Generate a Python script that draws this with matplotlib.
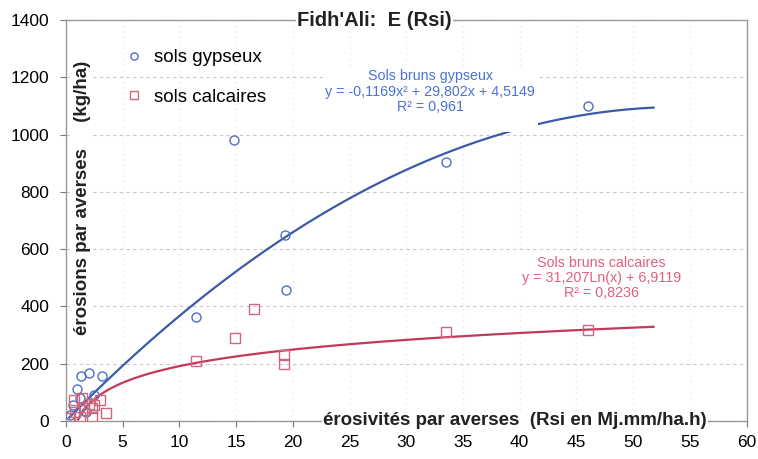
import numpy as np
import matplotlib
matplotlib.use("Agg")
import matplotlib.pyplot as plt

plt.rcParams['font.family'] = ['Liberation Sans', 'DejaVu Sans']

# ---- data ----
gyp_x = [0.4, 0.6, 1.0, 1.2, 1.3, 1.8, 2.0, 2.5, 3.2, 11.5, 14.8, 19.3, 19.4, 33.5, 46.0]
gyp_y = [20, 55, 110, 80, 158, 30, 168, 90, 157, 362, 980, 650, 456, 905, 1100]

cal_x = [0.3, 0.7, 0.8, 1.2, 1.4, 1.6, 2.0, 2.3, 2.3, 2.5, 3.0, 3.5,
         11.5, 14.9, 16.6, 19.2, 19.2, 33.5, 46.0]
cal_y = [10, 73, 31, 14, 80, 38, 60, 14, 45, 56, 73, 27,
         210, 290, 390, 230, 200, 310, 318]

# trend lines as drawn (coefficients estimated from the drawn curves)
gyp_poly = [-0.372, 40.4, 0.0]      # quadratic
cal_log = [83.6, -1.2]              # A*ln(x)+B
trend_range = [0.3, 51.8]

xticks = list(range(0, 61, 5))
yticks = list(range(0, 1401, 200))

labels = ["sols gypseux", "sols calcaires"]
eq_gyp = "Sols bruns gypseux\ny = -0,1169x² + 29,802x + 4,5149\nR² = 0,961\n "
eq_cal = "Sols bruns calcaires\ny = 31,207Ln(x) + 6,9119\nR² = 0,8236"

blue_pt = "#4f6fc4"
blue_ln = "#3b5aa8"
red_pt = "#d0667e"
red_ln = "#c23a58"

fig = plt.figure(figsize=(7.58, 4.59), dpi=100)
ax = fig.add_axes([0.087, 0.083, 0.898, 0.873])

ax.set_xlim(0, 60)
ax.set_ylim(0, 1400)
ax.set_xticks(xticks)
ax.set_yticks(yticks)
ax.tick_params(axis='both', labelsize=12.5, length=4, color='#777777')
ax.tick_params(axis='y', pad=8)
ax.tick_params(axis='x', pad=6)
for s in ax.spines.values():
    s.set_color('#999999')
    s.set_linewidth(1.0)

ax.yaxis.grid(True, linestyle=(0, (3, 3)), color='#c8c8c8', linewidth=0.8)
ax.xaxis.grid(True, linestyle=(0, (1, 4)), color='#e0e0e0', linewidth=0.8)
ax.set_axisbelow(True)

xx = np.linspace(trend_range[0], trend_range[1], 400)
ax.plot(xx, np.polyval(gyp_poly, xx), color=blue_ln, lw=1.6, zorder=3)
xl = xx[xx >= 1.0]
ax.plot(xl, cal_log[0] * np.log(xl) + cal_log[1], color=red_ln, lw=1.6, zorder=3)

ax.plot(gyp_x, gyp_y, linestyle='none', marker='o', ms=6.5, mfc='none',
        mec=blue_pt, mew=1.0, label=labels[0], zorder=4)
ax.plot(cal_x, cal_y, linestyle='none', marker='s', ms=6.5, mfc='none',
        mec=red_pt, mew=1.0, label=labels[1], zorder=4)

leg = ax.legend(loc='upper left', bbox_to_anchor=(0.062, 0.97), frameon=False,
                fontsize=13.5, handletextpad=0.55, labelspacing=1.2, handlelength=1.0,
                markerscale=0.8)

ax.text(32.1, 1123, eq_gyp, color='#4a72d4', fontsize=10.3, ha='center', va='center',
        linespacing=1.12, zorder=5,
        bbox=dict(facecolor='white', edgecolor='none', pad=2))
ax.text(47.2, 499, eq_cal, color='#e0607e', fontsize=10.3, ha='center', va='center',
        linespacing=1.12, zorder=5,
        bbox=dict(facecolor='white', edgecolor='none', pad=2))

ax.text(27.2, 1400, "Fidh'Ali:  E (Rsi)", fontsize=14.5, fontweight='bold',
        ha='center', va='center', color='#222222', zorder=6,
        bbox=dict(facecolor='white', edgecolor='none', pad=1))
ax.text(39.6, 0, "érosivités par averses  (Rsi en Mj.mm/ha.h)", fontsize=13.5,
        fontweight='bold', ha='center', va='center', color='#222222', zorder=6,
        clip_on=False, bbox=dict(facecolor='white', edgecolor='none', pad=1))
ax.text(1.5, 778, "érosions par averses     (kg/ha)", fontsize=13.5, fontweight='bold',
        rotation=90, ha='center', va='center', color='#222222', zorder=6,
        clip_on=False, bbox=dict(facecolor='white', edgecolor='none', pad=1))

fig.savefig("out.png", dpi=100, facecolor='white')
